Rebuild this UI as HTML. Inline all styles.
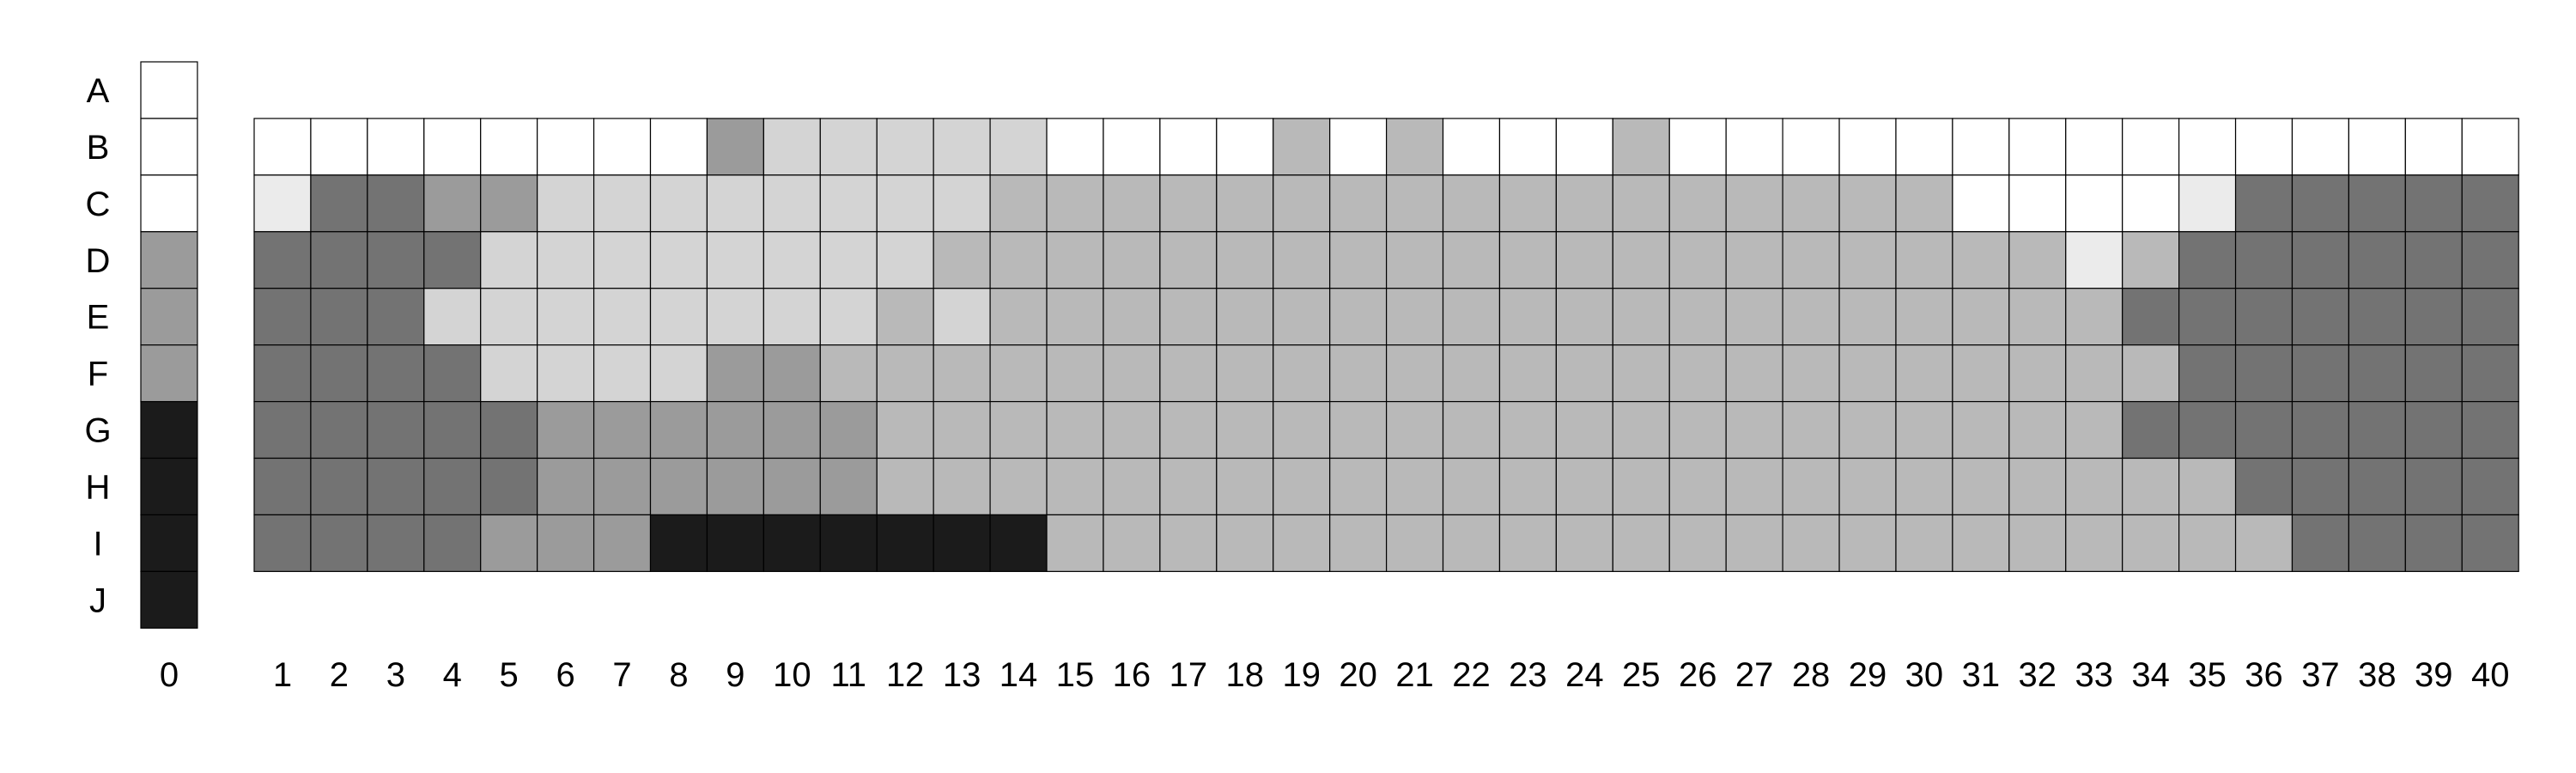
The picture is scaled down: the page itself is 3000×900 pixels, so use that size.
<!DOCTYPE html>
<html><head><meta charset="utf-8"><style>
html,body{margin:0;padding:0;background:#fff;}
svg{display:block;}
text{font-family:"Liberation Sans",sans-serif;font-size:40px;fill:#000;}
</style></head><body>
<svg id="chart" width="3000" height="900" viewBox="0 0 3000 900">
<g id="grid0"></g>
<g id="gridMain"></g>
<g id="rowLabels"></g>
<g id="colLabels"></g>
</svg>
<script>
const rowNames = ["A","B","C","D","E","F","G","H","I","J"];
const colNames = ["0","1","2","3","4","5","6","7","8","9","10","11","12","13","14","15","16","17","18","19","20","21","22","23","24","25","26","27","28","29","30","31","32","33","34","35","36","37","38","39","40"];
const palette = ["#ffffff","#ebebeb","#d4d4d4","#b9b9b9","#9b9b9b","#737373","#1b1b1b"];
const col0Values = [0,0,0,4,4,4,6,6,6,6];
const rowB = [0,0,0,0,0,0,0,0,4,2,2,2,2,2,0,0,0,0,3,0,3,0,0,0,3,0,0,0,0,0,0,0,0,0,0,0,0,0,0,0];
const rowC = [1,5,5,4,4,2,2,2,2,2,2,2,2,3,3,3,3,3,3,3,3,3,3,3,3,3,3,3,3,3,0,0,0,0,1,5,5,5,5,5];
const rowD = [5,5,5,5,2,2,2,2,2,2,2,2,3,3,3,3,3,3,3,3,3,3,3,3,3,3,3,3,3,3,3,3,1,3,5,5,5,5,5,5];
const rowE = [5,5,5,2,2,2,2,2,2,2,2,3,2,3,3,3,3,3,3,3,3,3,3,3,3,3,3,3,3,3,3,3,3,5,5,5,5,5,5,5];
const rowF = [5,5,5,5,2,2,2,2,4,4,3,3,3,3,3,3,3,3,3,3,3,3,3,3,3,3,3,3,3,3,3,3,3,3,5,5,5,5,5,5];
const rowG = [5,5,5,5,5,4,4,4,4,4,4,3,3,3,3,3,3,3,3,3,3,3,3,3,3,3,3,3,3,3,3,3,3,5,5,5,5,5,5,5];
const rowH = [5,5,5,5,5,4,4,4,4,4,4,3,3,3,3,3,3,3,3,3,3,3,3,3,3,3,3,3,3,3,3,3,3,3,3,5,5,5,5,5];
const rowI = [5,5,5,5,4,4,4,6,6,6,6,6,6,6,3,3,3,3,3,3,3,3,3,3,3,3,3,3,3,3,3,3,3,3,3,3,5,5,5,5];
const mainRows = [rowB,rowC,rowD,rowE,rowF,rowG,rowH,rowI];
const mainRowStart = 1; // row index of B

const NS = "http://www.w3.org/2000/svg";
const cell = 65.93;
const top0 = 72;
const col0X = 164;
const mainX = 296;
function yOf(r){ return top0 + r*cell; }
function xOf(c){ return c===0 ? col0X : mainX + (c-1)*cell; }

function rect(parent, x, y, fill){
  const el = document.createElementNS(NS,"rect");
  el.setAttribute("x",x); el.setAttribute("y",y);
  el.setAttribute("width",cell); el.setAttribute("height",cell);
  el.setAttribute("fill",fill); el.setAttribute("stroke","#000"); el.setAttribute("stroke-width","1.2");
  parent.appendChild(el);
  return el;
}
const g0 = document.getElementById("grid0");
col0Values.forEach((v,r)=>{
  const el = rect(g0, xOf(0), yOf(r), palette[v]);
  
  
});
const gm = document.getElementById("gridMain");
mainRows.forEach((row,ri)=>{
  row.forEach((v,ci)=>{
    const el = rect(gm, xOf(ci+1), yOf(ri+mainRowStart), palette[v]);
    
    
  });
});
const rl = document.getElementById("rowLabels");
rowNames.forEach((n,r)=>{
  const t = document.createElementNS(NS,"text");
  t.setAttribute("x",114); t.setAttribute("y",yOf(r)+cell/2+14);
  t.setAttribute("text-anchor","middle");
  t.textContent = n;
  
  
  rl.appendChild(t);
});
const cl = document.getElementById("colLabels");
colNames.forEach((n,c)=>{
  const t = document.createElementNS(NS,"text");
  t.setAttribute("x",xOf(c)+cell/2); t.setAttribute("y",799);
  t.setAttribute("text-anchor","middle");
  t.textContent = n;
  
  
  cl.appendChild(t);
});
</script>
</body></html>
